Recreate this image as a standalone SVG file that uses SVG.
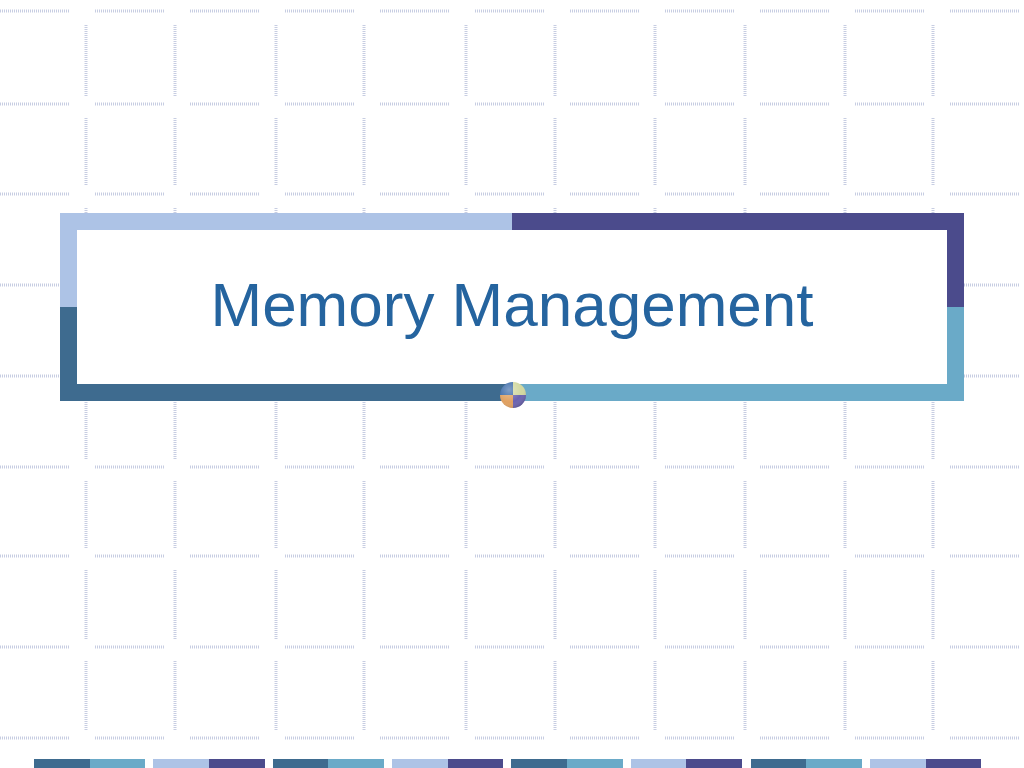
<svg xmlns="http://www.w3.org/2000/svg" width="1024" height="768" viewBox="0 0 1024 768">
<defs>
<style>
.grid{fill:none;stroke:#b4bcd8;stroke-width:3;stroke-dasharray:1 1;stroke-opacity:0.75}
.lb{fill:#adc3e6}.pu{fill:#4b4b8c}.dk{fill:#3e6b8f}.tl{fill:#6aaac8}
.title{font-family:"Liberation Sans",Arial,sans-serif;font-size:62px;fill:#25649f}
</style>
<radialGradient id="shine" cx="0.35" cy="0.3" r="0.8">
<stop offset="0" stop-color="#fff" stop-opacity="0.35"/>
<stop offset="0.6" stop-color="#fff" stop-opacity="0"/>
<stop offset="1" stop-color="#000" stop-opacity="0.25"/>
</radialGradient>
</defs>
<rect width="1024" height="768" fill="#fff"/>
<g id="grid">
<path class="grid" d="M0 11h70M95 11h70M190 11h70M285 11h70M380 11h70M475 11h70M570 11h70M665 11h70M760 11h70M855 11h70M950 11h70
M0 104h70M95 104h70M190 104h70M285 104h70M380 104h70M475 104h70M570 104h70M665 104h70M760 104h70M855 104h70M950 104h70
M0 194h70M95 194h70M190 194h70M285 194h70M380 194h70M475 194h70M570 194h70M665 194h70M760 194h70M855 194h70M950 194h70
M0 285h70M95 285h70M190 285h70M285 285h70M380 285h70M475 285h70M570 285h70M665 285h70M760 285h70M855 285h70M950 285h70
M0 376h70M95 376h70M190 376h70M285 376h70M380 376h70M475 376h70M570 376h70M665 376h70M760 376h70M855 376h70M950 376h70
M0 467h70M95 467h70M190 467h70M285 467h70M380 467h70M475 467h70M570 467h70M665 467h70M760 467h70M855 467h70M950 467h70
M0 556h70M95 556h70M190 556h70M285 556h70M380 556h70M475 556h70M570 556h70M665 556h70M760 556h70M855 556h70M950 556h70
M0 647h70M95 647h70M190 647h70M285 647h70M380 647h70M475 647h70M570 647h70M665 647h70M760 647h70M855 647h70M950 647h70
M0 738h70M95 738h70M190 738h70M285 738h70M380 738h70M475 738h70M570 738h70M665 738h70M760 738h70M855 738h70M950 738h70"/>
<path class="grid" d="M86 25v71M175 25v71M276 25v71M364 25v71M466 25v71M555 25v71M655 25v71M745 25v71M845 25v71M933 25v71
M86 118v68M175 118v68M276 118v68M364 118v68M466 118v68M555 118v68M655 118v68M745 118v68M845 118v68M933 118v68
M86 208v69M175 208v69M276 208v69M364 208v69M466 208v69M555 208v69M655 208v69M745 208v69M845 208v69M933 208v69
M86 299v69M175 299v69M276 299v69M364 299v69M466 299v69M555 299v69M655 299v69M745 299v69M845 299v69M933 299v69
M86 390v69M175 390v69M276 390v69M364 390v69M466 390v69M555 390v69M655 390v69M745 390v69M845 390v69M933 390v69
M86 481v67M175 481v67M276 481v67M364 481v67M466 481v67M555 481v67M655 481v67M745 481v67M845 481v67M933 481v67
M86 570v69M175 570v69M276 570v69M364 570v69M466 570v69M555 570v69M655 570v69M745 570v69M845 570v69M933 570v69
M86 661v69M175 661v69M276 661v69M364 661v69M466 661v69M555 661v69M655 661v69M745 661v69M845 661v69M933 661v69"/>
</g>
<g id="frame">
<rect x="77" y="230" width="870" height="154" fill="#fff"/>
<rect class="lb" x="60" y="213" width="452" height="17"/>
<rect class="lb" x="60" y="213" width="17" height="94"/>
<rect class="pu" x="512" y="213" width="452" height="17"/>
<rect class="pu" x="947" y="213" width="17" height="94"/>
<rect class="dk" x="60" y="307" width="17" height="94"/>
<rect class="dk" x="60" y="384" width="452" height="17"/>
<rect class="tl" x="512" y="384" width="452" height="17"/>
<rect class="tl" x="947" y="307" width="17" height="94"/>
</g>
<g id="title">
<text class="title" x="512" y="326" text-anchor="middle">Memory Management</text>
</g>
<g id="icon">
<path d="M513 395V382A13 13 0 0 0 500 395Z" fill="#3b6aa8"/>
<path d="M513 395V382A13 13 0 0 1 526 395Z" fill="#d2d8a0"/>
<path d="M513 395H500A13 13 0 0 0 513 408Z" fill="#e0a060"/>
<path d="M513 395H526A13 13 0 0 1 513 408Z" fill="#6a62b0"/>
<circle cx="513" cy="395" r="13" fill="url(#shine)"/>
</g>
<g id="bottom-bar">
<rect class="dk" x="34" y="759" width="56" height="9"/><rect class="tl" x="90" y="759" width="55" height="9"/>
<rect class="lb" x="153" y="759" width="56" height="9"/><rect class="pu" x="209" y="759" width="56" height="9"/>
<rect class="dk" x="273" y="759" width="55" height="9"/><rect class="tl" x="328" y="759" width="56" height="9"/>
<rect class="lb" x="392" y="759" width="56" height="9"/><rect class="pu" x="448" y="759" width="55" height="9"/>
<rect class="dk" x="511" y="759" width="56" height="9"/><rect class="tl" x="567" y="759" width="56" height="9"/>
<rect class="lb" x="631" y="759" width="55" height="9"/><rect class="pu" x="686" y="759" width="56" height="9"/>
<rect class="dk" x="751" y="759" width="55" height="9"/><rect class="tl" x="806" y="759" width="56" height="9"/>
<rect class="lb" x="870" y="759" width="56" height="9"/><rect class="pu" x="926" y="759" width="55" height="9"/>
</g>
</svg>
